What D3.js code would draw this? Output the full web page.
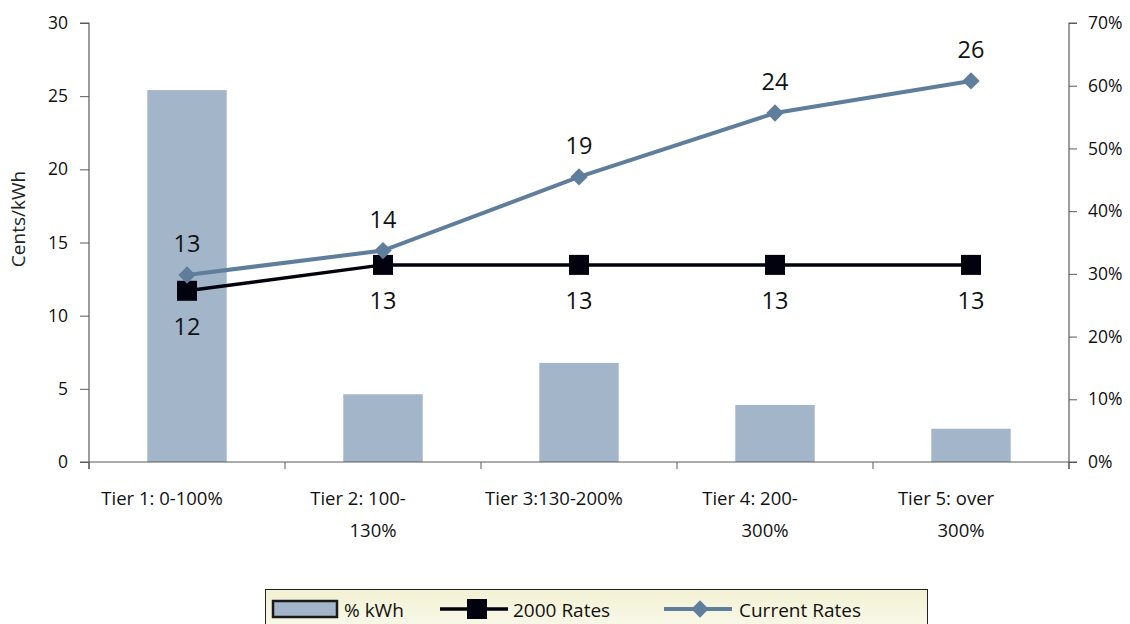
<!DOCTYPE html>
<html>
<head>
<meta charset="utf-8">
<script src="https://cdn.jsdelivr.net/npm/d3@7"></script>
<style>
  html, body { margin: 0; padding: 0; background: #fff; }
  svg { display: block; font-family: "Open Sans", "Noto Sans", sans-serif; }
</style>
</head>
<body>
<svg id="chart" width="1130" height="624"></svg>
<script>
// Rate tiers (share of baseline usage)
const tiers = ["Tier 1: 0-100%", "Tier 2: 100-130%", "Tier 3:130-200%", "Tier 4: 200-300%", "Tier 5: over 300%"];
// Wrapped label lines per tier
const tierLines = [["Tier 1: 0-100%"], ["Tier 2: 100-", "130%"], ["Tier 3:130-200%"], ["Tier 4: 200-", "300%"], ["Tier 5: over", "300%"]];
// Share of kWh consumed in each tier (right axis, %)
const pctKwh = [59.3, 10.8, 15.8, 9.1, 5.3];
// Rates in cents/kWh (left axis)
const rates2000 = [11.7, 13.47, 13.47, 13.47, 13.47];
const ratesCurrent = [12.78, 14.45, 19.48, 23.85, 26.04];
const leftTicks = [0, 5, 10, 15, 20, 25, 30];
const rightTicks = [0, 10, 20, 30, 40, 50, 60, 70];

const svg = d3.select("#chart");
const x0 = 89, x1 = 1069, yTop = 23, yBot = 462;
const axisColor = "#5a5a5a";
const barColor = "#a3b5c9";
const curColor = "#5f7e9c";
const oldColor = "#02020f";

const x = d3.scaleBand().domain(tiers).range([x0, x1]).paddingInner(0).paddingOuter(0);
const yL = d3.scaleLinear().domain([0, 30]).range([yBot, yTop]);
const yR = d3.scaleLinear().domain([0, 70]).range([yBot, yTop]);

// Bars: % kWh
const bw = x.bandwidth() * 0.405;
svg.append("g").selectAll("rect").data(pctKwh).join("rect")
  .attr("x", (d, i) => x(tiers[i]) + x.bandwidth() / 2 - bw / 2)
  .attr("y", d => yR(d))
  .attr("width", bw)
  .attr("height", d => yR(0) - yR(d))
  .attr("fill", barColor);

// Left axis
const leftAxis = d3.axisLeft(yL).tickValues(leftTicks).tickSize(9).tickPadding(12);
const gL = svg.append("g").attr("transform", `translate(${x0},0)`).call(leftAxis);
// Right axis
const rightAxis = d3.axisRight(yR).tickValues(rightTicks).tickSize(8).tickPadding(11).tickFormat(d => d + "%");
const gR = svg.append("g").attr("transform", `translate(${x1},0)`).call(rightAxis);
// Category axis
const bottomAxis = d3.axisBottom(x).tickSize(7).tickFormat("");
const gB = svg.append("g").attr("transform", `translate(0,${yBot})`).call(bottomAxis);
// Category boundaries
gB.selectAll(".tick").remove();
const bounds = tiers.map(t => x(t)).concat([x1]);
gB.selectAll("line.b").data(bounds).join("line").attr("class", "b")
  .attr("x1", d => d).attr("x2", d => d).attr("y1", 0).attr("y2", 7)
  .attr("stroke", axisColor);

[gL, gR, gB].forEach(g => {
  g.selectAll(".domain").attr("stroke", axisColor).attr("stroke-width", 1.2);
  g.selectAll(".tick line").attr("stroke", axisColor);
  g.selectAll(".tick text").attr("fill", "#111").style("font-size", "17.5px")
    .style("font-family", "'Open Sans', sans-serif");
});
gL.select(".domain").attr("d", `M-9,${yTop}H0V${yBot + 7}`);
gR.select(".domain").attr("d", `M8,${yTop}H0V${yBot + 7}`);
gB.select(".domain").attr("d", `M${x0 - 9},0H${x1 + 8}`);

// Category labels (wrapped; the label block sits slightly left of the band centre)
const lab = svg.append("g");
const lineShift = [-25, -10];
tierLines.forEach((lines, i) => {
  const cx = x(tiers[i]) + x.bandwidth() / 2;
  lines.forEach((ln, j) => {
    lab.append("text").attr("x", cx + lineShift[j]).attr("y", 505 + j * 32)
      .attr("text-anchor", "middle").attr("fill", "#111")
      .style("font-size", "18.5px").text(ln);
  });
});

// Y axis title
svg.append("text").attr("transform", "translate(25,219) rotate(-90)")
  .attr("text-anchor", "middle").attr("fill", "#222").style("font-size", "19px")
  .text("Cents/kWh");

const cx = (d, i) => x(tiers[i]) + x.bandwidth() / 2;
const fmt = d3.format(".0f");

// 2000 Rates line
svg.append("path").datum(rates2000)
  .attr("d", d3.line().x(cx).y(d => yL(d)))
  .attr("fill", "none").attr("stroke", oldColor).attr("stroke-width", 3.5);
svg.append("g").selectAll("rect").data(rates2000).join("rect")
  .attr("x", (d, i) => cx(d, i) - 10).attr("y", d => yL(d) - 10)
  .attr("width", 20).attr("height", 20).attr("fill", oldColor);

// Current Rates line
svg.append("path").datum(ratesCurrent)
  .attr("d", d3.line().x(cx).y(d => yL(d)))
  .attr("fill", "none").attr("stroke", curColor).attr("stroke-width", 4);
svg.append("g").selectAll("path").data(ratesCurrent).join("path")
  .attr("transform", (d, i) => `translate(${cx(d, i)},${yL(d)}) rotate(45)`)
  .attr("d", d3.symbol().type(d3.symbolSquare).size(150))
  .attr("fill", curColor);

// Data labels
svg.append("g").selectAll("text").data(ratesCurrent).join("text")
  .attr("x", cx).attr("y", d => yL(d) - 23)
  .attr("text-anchor", "middle").attr("fill", "#111").style("font-size", "23.5px")
  .text(d => fmt(d));
svg.append("g").selectAll("text").data(rates2000).join("text")
  .attr("x", cx).attr("y", d => yL(d) + 44)
  .attr("text-anchor", "middle").attr("fill", "#111").style("font-size", "23.5px")
  .text(d => fmt(d));

// Legend
const defs = svg.append("defs");
const grad = defs.append("linearGradient").attr("id", "legBg").attr("x1", 0).attr("y1", 0).attr("x2", 0).attr("y2", 1);
grad.append("stop").attr("offset", "0%").attr("stop-color", "#f2f1d3");
grad.append("stop").attr("offset", "100%").attr("stop-color", "#fdfdf7");
const leg = svg.append("g");
leg.append("rect").attr("x", 265.5).attr("y", 589.5).attr("width", 662).attr("height", 60)
  .attr("fill", "url(#legBg)").attr("stroke", "#222").attr("stroke-width", 1);
leg.append("rect").attr("x", 273).attr("y", 601).attr("width", 64).attr("height", 16)
  .attr("fill", barColor).attr("stroke", "#1a1a1a").attr("stroke-width", 2.5);
leg.append("text").attr("x", 344).attr("y", 617).style("font-size", "19px").attr("fill", "#111").text("% kWh");
leg.append("line").attr("x1", 440).attr("x2", 508).attr("y1", 609).attr("y2", 609)
  .attr("stroke", oldColor).attr("stroke-width", 3.5);
leg.append("rect").attr("x", 467).attr("y", 599).attr("width", 20).attr("height", 20).attr("fill", oldColor);
leg.append("text").attr("x", 513).attr("y", 617).style("font-size", "19px").attr("fill", "#111").text("2000 Rates");
leg.append("line").attr("x1", 664).attr("x2", 732).attr("y1", 609).attr("y2", 609)
  .attr("stroke", curColor).attr("stroke-width", 4);
leg.append("path").attr("transform", "translate(700,609) rotate(45)")
  .attr("d", d3.symbol().type(d3.symbolSquare).size(150)).attr("fill", curColor);
leg.append("text").attr("x", 739).attr("y", 617).style("font-size", "19px").attr("fill", "#111").text("Current Rates");
</script>
</body>
</html>
